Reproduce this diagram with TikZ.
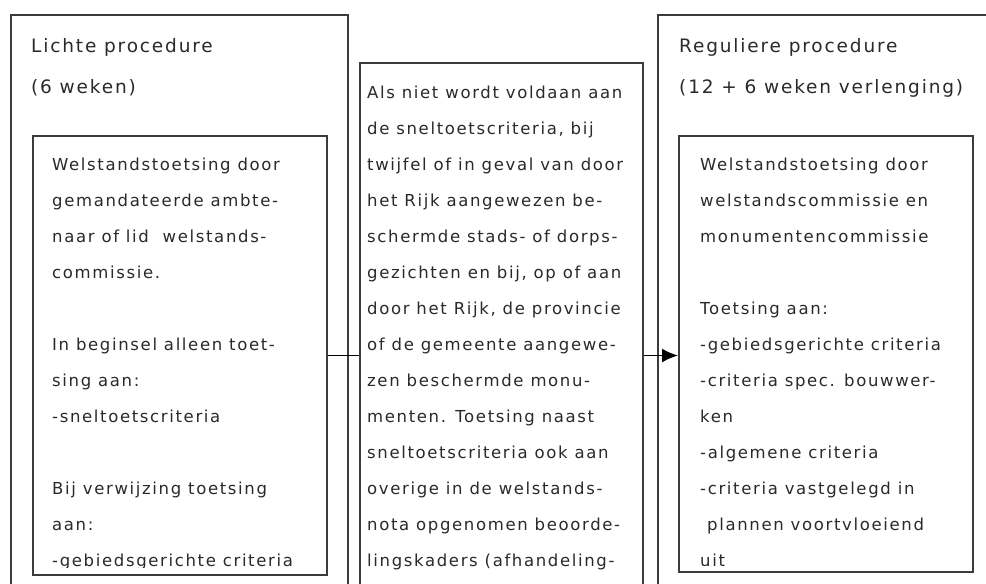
\documentclass[tikz,border=0pt]{standalone}
\usepackage{fontspec}
\setmainfont{DejaVu Sans}[LetterSpace=10]
\usetikzlibrary{arrows.meta}
\definecolor{boxline}{HTML}{3C3C3C}
\definecolor{txt}{HTML}{2A2A2A}
\begin{document}
\begin{tikzpicture}[x=1pt,y=-1pt,
  frame/.style={draw=boxline, line width=2pt, rectangle, inner sep=0pt},
  body/.style={anchor=base west, align=left, inner sep=0pt, text=txt, font=\fontsize{16.5}{36}\selectfont},
  head/.style={anchor=base west, align=left, inner sep=0pt, text=txt, font=\fontsize{18.5}{41}\selectfont},
  conn/.style={draw=black, line width=1.8pt}
]
\useasboundingbox (0,0) rectangle (986,584);
\clip (0,0) rectangle (986,584);
\fill[white] (0,0) rectangle (986,584);

% frames
\node[frame, minimum width=337pt, minimum height=685pt] (outL) at (179.5,357.5) {};
\node[frame, minimum width=294pt, minimum height=439pt] (inL) at (180,355.5) {};
\node[frame, minimum width=283pt, minimum height=585pt] (mid) at (501.5,355.5) {};
\node[frame, minimum width=352pt, minimum height=685pt] (outR) at (834,357.5) {};
\node[frame, minimum width=294pt, minimum height=436pt] (inR) at (826,354) {};

% connectors
\draw[conn] (inL) -- (mid);
\draw[conn, -{Latex[length=16pt,width=14pt]}] (mid.east) -- (mid.east -| inR.west);

% titles (anchor = baseline of last line)
\node[head] (tL) at (31,93) {Lichte procedure\\(6 weken)};
\node[head] (tR) at (679,93) {Reguliere procedure\\(12 + 6 weken verlenging)};

% inner left text
\begin{scope}
\clip (inL.north west) rectangle ([yshift=9pt]inL.south east);
\node[body] (bL) at (52,566) {Welstandstoetsing door\\gemandateerde ambte-\\naar of lid~~welstands-\\commissie.\\[36pt]In beginsel alleen toet-\\sing aan:\\-sneltoetscriteria\\[36pt]Bij verwijzing toetsing\\aan:\\-gebiedsgerichte criteria};
\end{scope}

% middle text
\node[body] (bM) at (367,566) {Als niet wordt voldaan aan\\de sneltoetscriteria, bij\\twijfel of in geval van door\\het Rijk aangewezen be-\\schermde stads- of dorps-\\gezichten en bij, op of aan\\door het Rijk, de provincie\\of de gemeente aangewe-\\zen beschermde monu-\\menten. Toetsing naast\\sneltoetscriteria ook aan\\overige in de welstands-\\nota opgenomen beoorde-\\lingskaders (afhandeling-};

% inner right text
\begin{scope}
\clip (inR.north west) rectangle ([yshift=8pt]inR.south east);
\node[body] (bR) at (700,566) {Welstandstoetsing door\\welstandscommissie en\\monumentencommissie\\[36pt]Toetsing aan:\\-gebiedsgerichte criteria\\-criteria spec. bouwwer-\\ken\\-algemene criteria\\-criteria vastgelegd in\\\hspace*{7pt}plannen voortvloeiend\\uit};
\end{scope}
\end{tikzpicture}
\end{document}
